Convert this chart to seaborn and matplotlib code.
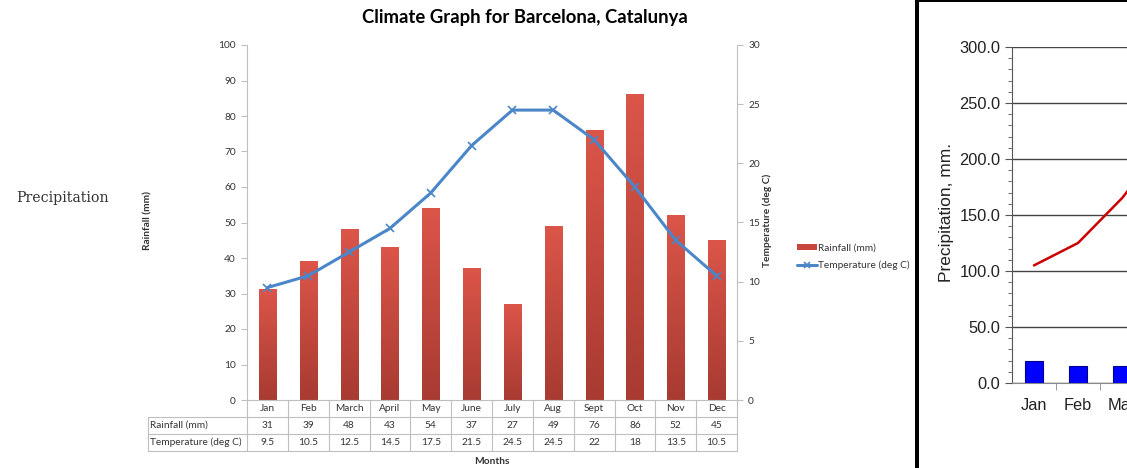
import matplotlib
matplotlib.use('Agg')
import matplotlib.pyplot as plt
import matplotlib.patches as mpatches
from matplotlib.lines import Line2D
from matplotlib.ticker import MultipleLocator, FixedLocator
from matplotlib.colors import LinearSegmentedColormap
import seaborn as sns
import numpy as np
import pandas as pd

# data
months = ['Jan', 'Feb', 'March', 'April', 'May', 'June', 'July', 'Aug', 'Sept', 'Oct', 'Nov', 'Dec']
rainfall = [31, 39, 48, 43, 54, 37, 27, 49, 76, 86, 52, 45]
temperature = [9.5, 10.5, 12.5, 14.5, 17.5, 21.5, 24.5, 24.5, 22, 18, 13.5, 10.5]
temp_labels = ['9.5', '10.5', '12.5', '14.5', '17.5', '21.5', '24.5', '24.5', '22', '18', '13.5', '10.5']

# second (cropped) chart on the right
months2 = ['Jan', 'Feb', 'Mar', 'Apr']
precip_bars = [20, 15, 15.5, 14]
precip_line = [105, 125, 165, 215]

sns.set_style('white')
plt.rcParams['font.family'] = ['Lato', 'DejaVu Sans']

W, H = 1127, 468
fig = plt.figure(figsize=(W / 100, H / 100), dpi=100)

def fx(px):
    return px / W

def fy(py):
    return 1 - py / H

grey = '#bfbfbf'
txt = '#333333'
fs = 7.3

# ---- main climate graph ----
ax = fig.add_axes([fx(247), fy(400), fx(490), 355 / H])
df = pd.DataFrame({'month': months, 'rain': rainfall, 'temp': temperature})
sns.barplot(data=df, x='month', y='rain', color='#c0504d', width=0.42, ax=ax)

# gradient fill on bars
cmap = LinearSegmentedColormap.from_list('red', ['#a83b32', '#dc5549'])
grad = np.linspace(0, 1, 100).reshape(-1, 1)
for p in ax.patches:
    x0, y0 = p.get_x(), p.get_y()
    w, h = p.get_width(), p.get_height()
    ax.imshow(grad, extent=[x0, x0 + w, y0, y0 + h], origin='lower', aspect='auto',
              cmap=cmap, zorder=2)
ax.set_xlim(-0.5, 11.5)
ax.set_ylim(0, 100)
ax.yaxis.set_major_locator(MultipleLocator(10))
ax.set_xticks([])
ax.set_xlabel('')
ax.set_ylabel('')
for s in ['top', 'right']:
    ax.spines[s].set_visible(False)
ax.spines['left'].set_color(grey)
ax.spines['bottom'].set_color(grey)
ax.tick_params(axis='y', left=True, length=4, color=grey, labelsize=fs, labelcolor=txt, pad=4)

ax2 = ax.twinx()
sns.lineplot(x=np.arange(len(months)), y=temperature, ax=ax2, color='#4a86c8', lw=2.2,
             marker='x', markersize=6, markeredgewidth=1.2, markeredgecolor='#4a86c8')
ax2.set_ylim(0, 30)
ax2.set_xlim(-0.5, 11.5)
ax2.yaxis.set_major_locator(MultipleLocator(5))
for s in ['top', 'left', 'bottom']:
    ax2.spines[s].set_visible(False)
ax2.spines['right'].set_color(grey)
ax2.tick_params(axis='y', right=True, length=4, color=grey, labelsize=fs, labelcolor=txt, pad=4)

# data table below the axis
tr = ax.get_xaxis_transform()
rh = 17 / 355
rows_y = [0, -rh, -2 * rh, -3 * rh]
left_x = -0.5 - 99 / (490 / 12)
for i, m in enumerate(months):
    ax.text(i, -0.5 * rh, m, transform=tr, ha='center', va='center', fontsize=fs, color=txt, clip_on=False)
    ax.text(i, -1.5 * rh, str(rainfall[i]), transform=tr, ha='center', va='center', fontsize=fs, color=txt, clip_on=False)
    ax.text(i, -2.5 * rh, temp_labels[i], transform=tr, ha='center', va='center', fontsize=fs, color=txt, clip_on=False)
ax.text(left_x + 0.06, -1.5 * rh, 'Rainfall (mm)', transform=tr, ha='left', va='center', fontsize=fs, color=txt, clip_on=False)
ax.text(left_x + 0.06, -2.5 * rh, 'Temperature (deg C)', transform=tr, ha='left', va='center', fontsize=fs, color=txt, clip_on=False)
for k in range(13):
    ax.plot([k - 0.5, k - 0.5], [0, rows_y[3]], transform=tr, color=grey, lw=0.8, clip_on=False)
ax.plot([left_x, left_x], [rows_y[1], rows_y[3]], transform=tr, color=grey, lw=0.8, clip_on=False)
for yy in rows_y[1:]:
    ax.plot([left_x, 11.5], [yy, yy], transform=tr, color=grey, lw=0.8, clip_on=False)

fig.text(fx(525), fy(18), 'Climate Graph for Barcelona, Catalunya', ha='center', va='center',
         fontsize=13.3, fontweight='bold', color='black')
fig.text(fx(492), fy(462), 'Months', ha='center', va='center', fontsize=fs, fontweight='bold', color=txt)
fig.text(fx(148), fy(220), 'Rainfall (mm)', rotation=90, ha='center', va='center', fontsize=fs,
         fontweight='bold', color=txt)
fig.text(fx(767), fy(220), 'Temperature (deg C)', rotation=90, ha='center', va='center', fontsize=fs,
         fontweight='bold', color=txt)
fig.text(fx(16), fy(198), 'Precipitation', ha='left', va='center', fontsize=10.2,
         family=['DejaVu Serif'], color='#333333')

handles = [mpatches.Patch(facecolor='#c9463d', edgecolor='none'),
           Line2D([], [], color='#4a86c8', lw=2.2, marker='x', markersize=5, markeredgewidth=1.2)]
fig.legend(handles, ['Rainfall (mm)', 'Temperature (deg C)'], loc='center left',
           bbox_to_anchor=(fx(788), fy(257)), frameon=False, fontsize=fs, handlelength=2.0,
           handletextpad=0.1, labelspacing=0.8, handleheight=0.5, labelcolor=txt)

# ---- cropped precipitation chart on the right ----
fig.patches.append(mpatches.Rectangle((fx(915), 0), fx(4), 1, transform=fig.transFigure,
                                      facecolor='black', edgecolor='none'))
fig.patches.append(mpatches.Rectangle((fx(915), fy(2)), fx(W - 915), 2 / H, transform=fig.transFigure,
                                      facecolor='black', edgecolor='none'))

ax3 = fig.add_axes([fx(1012), fy(383), fx(44 * len(months2)), 336 / H])
sns.barplot(x=months2, y=precip_bars, color='#0000ff', edgecolor='#00008b', linewidth=0.8,
            saturation=1, width=0.4, ax=ax3, zorder=3)
sns.lineplot(x=np.arange(len(months2)), y=precip_line, ax=ax3, color='#cc0000', lw=1.8, zorder=4)
ax3.set_xlim(-0.5, len(months2) - 0.5)
ax3.set_ylim(0, 300)
ax3.yaxis.set_major_locator(MultipleLocator(50))
ax3.yaxis.set_minor_locator(MultipleLocator(10))
ax3.yaxis.set_major_formatter(matplotlib.ticker.FormatStrFormatter('%.1f'))
ax3.xaxis.set_minor_locator(FixedLocator(np.arange(len(months2)) + 0.5))
ax3.grid(axis='y', color='#444444', lw=1)
ax3.set_axisbelow(True)
for s in ['top', 'right']:
    ax3.spines[s].set_visible(False)
ax3.spines['left'].set_color('#555555')
ax3.spines['bottom'].set_color('#888888')
ax3.tick_params(axis='y', which='major', left=True, length=5, color='#555555', labelsize=11.8,
                labelfontfamily='Liberation Sans', labelcolor='#222222')
ax3.tick_params(axis='y', which='minor', left=True, length=3, color='#555555')
ax3.tick_params(axis='x', which='major', length=0, labelsize=11.8, pad=11,
                labelfontfamily='Liberation Sans', labelcolor='#222222')
ax3.tick_params(axis='x', which='minor', bottom=True, length=5, color='#888888')
ax3.set_xlabel('')
ax3.set_ylabel('')
fig.text(fx(947), fy(212), 'Precipitation, mm.', rotation=90, ha='center', va='center',
         fontsize=12.5, family=['Liberation Sans', 'DejaVu Sans'], color='#222222')

fig.savefig('out.png', dpi=100, facecolor='white')
